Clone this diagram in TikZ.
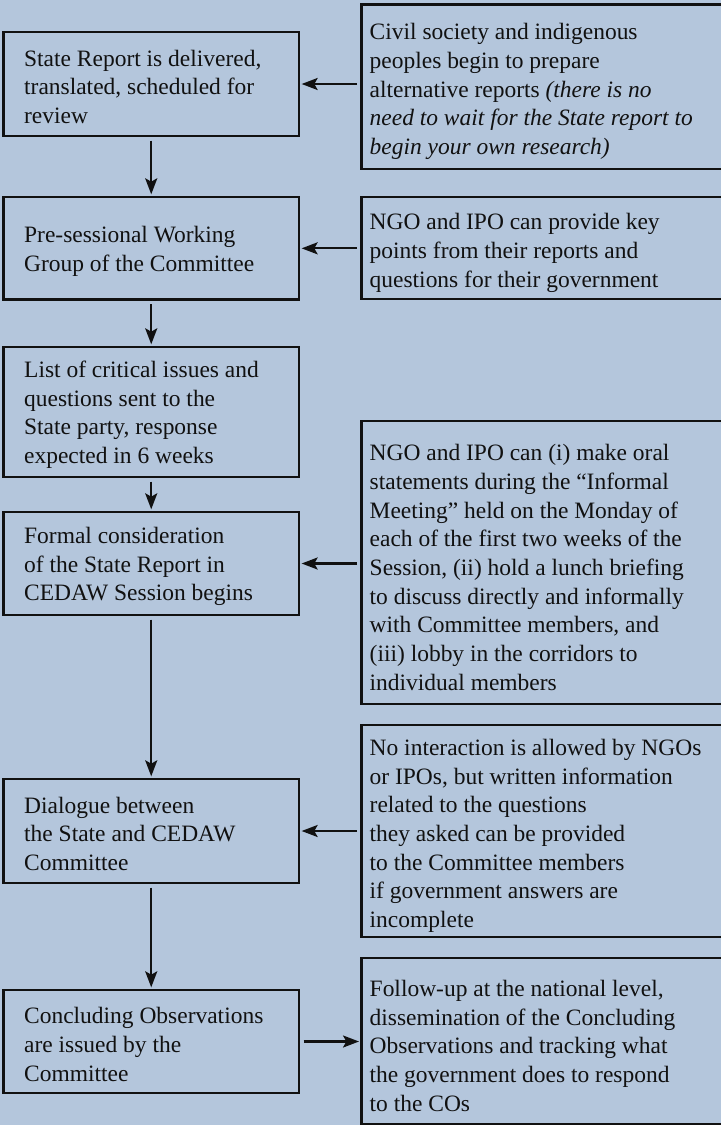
\documentclass[tikz,border=0pt]{standalone}
\usepackage{fontspec}
\setmainfont{Liberation Serif}
\usetikzlibrary{arrows.meta}

\begin{document}
\begin{tikzpicture}[x=0.75pt,y=-0.75pt]
        % Define colors
        \definecolor{bgblue}{RGB}{180,198,220}
        \definecolor{inkcolor}{RGB}{17,17,17}

        % Styles
        \tikzset{
            stage/.style={draw=inkcolor, line width=2pt, anchor=north west, outer sep=0pt,
                align=flush left, text width=190.6pt, inner xsep=15.5pt, inner ysep=0pt,
                text=inkcolor, font=\fontsize{17.6}{21.5}\selectfont,
                execute at begin node={\rule{0pt}{16.6pt}}},
            note/.style={stage, text width=261pt, inner xsep=6pt,
                execute at begin node={\rule{0pt}{19.5pt}}},
            flow/.style={draw=inkcolor, line width=1.7pt, -{Stealth[length=12pt,width=9pt,inset=2.5pt]},
                shorten <=3.5pt, shorten >=2pt}
        }

        % Background
        \useasboundingbox (0,0) rectangle (721,1125);
        \fill[bgblue] (0,0) rectangle (721,1125);

        % Stages of the review
        \node[stage, minimum height=78pt] (l1) at (3.5,32) {State Report is delivered,\\ translated, scheduled for\\ review};
        \node[stage, minimum height=77pt] (l2) at (3.5,197) {Pre-sessional Working\\ Group of the Committee};
        \node[stage, minimum height=97.5pt] (l3) at (3.5,347) {List of critical issues and\\ questions sent to the\\ State party, response\\ expected in 6 weeks};
        \node[stage, minimum height=77.25pt] (l4) at (3.5,512) {Formal consideration\\ of the State Report in\\ CEDAW Session begins};
        \node[stage, minimum height=78pt] (l5) at (3.5,779) {Dialogue between\\ the State and CEDAW\\ Committee};
        \node[stage, minimum height=77.25pt] (l6) at (3.5,990) {Concluding Observations\\ are issued by the\\ Committee};

        % What NGOs and IPOs can do
        \node[note, minimum height=123.4pt] (r1) at (361.7,4.5) {Civil society and indigenous\\ peoples begin to prepare\\ alternative reports {\itshape(there is no\\ need to wait for the State report to\\ begin your own research)}};
        \node[note, minimum height=76.5pt] (r2) at (361.7,197) {NGO and IPO can provide key\\ points from their reports and\\ questions for their government};
        \node[note, minimum height=212.25pt] (r3) at (361.7,421) {NGO and IPO can (i) make oral\\ statements during the “Informal\\ Meeting” held on the Monday of\\ each of the first two weeks of the\\ Session, (ii) hold a lunch briefing\\ to discuss directly and informally\\ with Committee members, and\\ (iii) lobby in the corridors to\\ individual members};
        \node[note, minimum height=159pt] (r4) at (361.7,725) {No interaction is allowed by NGOs\\ or IPOs, but written information\\ related to the questions\\ they asked can be provided\\ to the Committee members\\ if government answers are\\ incomplete};
        \node[note, minimum height=124.5pt] (r5) at (361.7,958) {Follow-up at the national level,\\ dissemination of the Concluding\\ Observations and tracking what\\ the government does to respond\\ to the COs};

        % Down the left column
        \foreach \a/\b in {l1/l2,l2/l3,l3/l4,l4/l5,l5/l6}
            \draw[flow] (\a) -- (\b);

        % Across
        \foreach \a/\b in {r1/l1,r2/l2,r3/l4,r4/l5}
            \draw[flow] (\b.east -| \a.west) -- (\b.east);
        \draw[flow] (l6.east) -- (l6.east -| r5.west);

    \end{tikzpicture}
\end{document}
